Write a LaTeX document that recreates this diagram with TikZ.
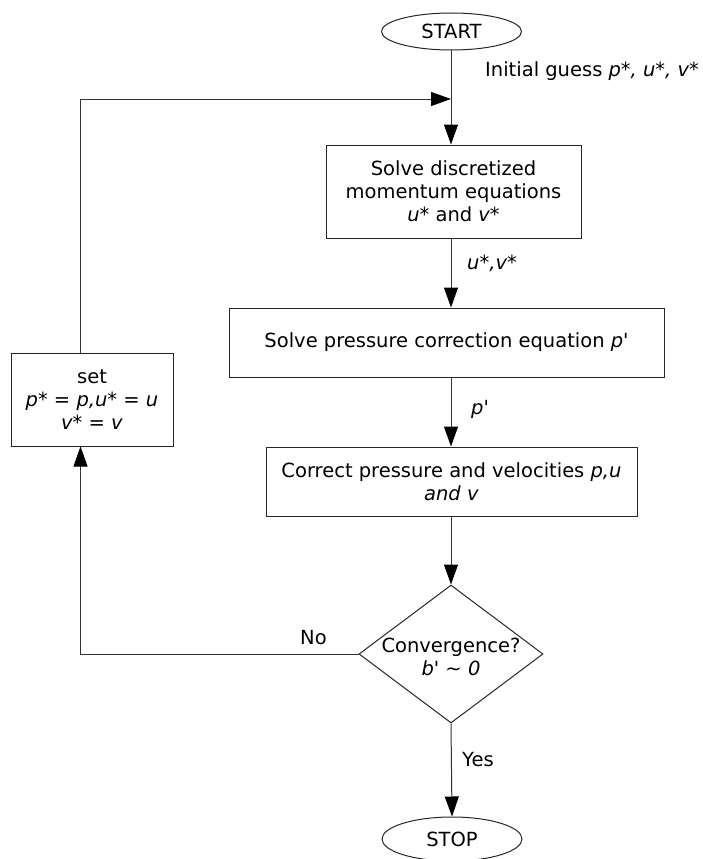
\documentclass[tikz,border=0pt]{standalone}
\usepackage{fontspec}
\setmainfont{DejaVu Sans}
\usetikzlibrary{shapes.geometric,arrows.meta}
\tikzset{
  every node/.style={font=\fontsize{19.5pt}{23pt}\selectfont},
  boxnode/.style={draw=black!85, line width=1pt, rectangle, inner sep=0pt, align=center},
  ovalnode/.style={draw=black!85, line width=1pt, ellipse, inner sep=0pt, minimum width=140pt},
  dianode/.style={draw=black!85, line width=1pt, diamond, inner sep=0pt},
  lbl/.style={anchor=west, inner sep=0pt},
  arr/.style={draw=black!80, line width=1pt, -{Triangle[length=20pt,width=14pt,color=black]}},
  ln/.style={draw=black!80, line width=1pt}
}
\begin{document}
\begin{tikzpicture}[x=1pt,y=-1pt]
\useasboundingbox (0,0) rectangle (702,859);
\node[ovalnode, minimum height=37pt] (start) at (451.5,31.5) {START};
\node[boxnode, minimum width=255pt, minimum height=93pt] (b1) at (453.5,191.5) {Solve discretized\\momentum equations\\\textit{u*} and \textit{v*}};
\node[boxnode, minimum width=435pt, minimum height=69pt] (b2) at (446.5,342.5) {Solve pressure correction equation \textit{p}\textquotesingle};
\node[boxnode, minimum width=371pt, minimum height=69pt] (b3) at (451.5,481.5) {Correct pressure and velocities \textit{p,u}\\\textit{and v}};
\node[dianode, minimum width=184pt, minimum height=138pt] (dia) at (451,654) {};
\node[align=center, inner sep=0pt] (diatext) at (451,657) {Convergence?\\\textit{b}\textquotesingle{} \textasciitilde\ \textit{0}};
\node[ovalnode, minimum height=44pt] (stop) at (452,839) {STOP};
\node[boxnode, minimum width=162pt, minimum height=93pt] (set) at (92,399.5) {set\\\textit{p* = p,u* = u}\\\textit{v* = v}};

\coordinate (mid) at (451,0);
\coordinate (join) at (451,99);
\coordinate (loopT) at (80.5,99);
\coordinate (loopB) at (80.5,654);

\node[lbl] (lg) at (485,71) {Initial guess \textit{p*, u*, v*}};
\node[lbl] (luv) at (467,263) {\textit{u*,v*}};
\node[lbl] (lp) at (471,409) {\textit{p}\textquotesingle};
\node[lbl] (lno) at (300,638) {No};
\node[lbl] (lyes) at (462,760) {Yes};

\draw[arr] (start.south -| mid) -- (b1.north -| mid);
\draw[arr] (b1.south -| mid) -- (b2.north -| mid);
\draw[arr] (b2.south -| mid) -- (b3.north -| mid);
\draw[arr] (b3.south -| mid) -- (dia.north);
\draw[arr] (dia.south) -- (stop.north);
\draw[arr] (set.north -| loopT) -- (loopT) -- (join);
\draw[arr] (dia.west) -- (loopB) -- (set.south -| loopB);
\end{tikzpicture}
\end{document}
